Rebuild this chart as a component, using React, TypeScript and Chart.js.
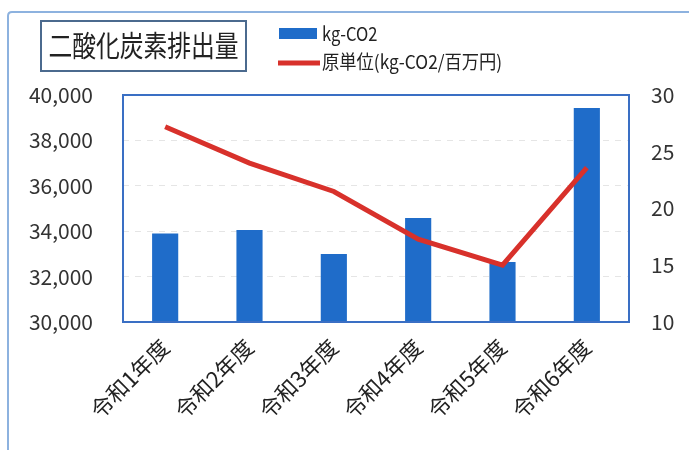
import React, { useEffect, useRef } from "react";
import { Chart, registerables } from "chart.js";

Chart.register(...registerables);

const categories = ["令和1年度", "令和2年度", "令和3年度", "令和4年度", "令和5年度", "令和6年度"];
const emissions = [33900, 34050, 33000, 34580, 32640, 39430];
const intensity = [27.2, 24.0, 21.5, 17.3, 15.0, 23.6];
const titleText = "二酸化炭素排出量";
const barLabel = "kg-CO2";
const lineLabel = "原単位(kg-CO2/百万円)";

const FONT = "'Noto Sans CJK JP', 'Noto Sans', sans-serif";
const BAR_COLOR = "#1f6cc9";
const LINE_COLOR = "#d8312b";

function squeezedText(ctx: any, text: string, x: number, y: number, sx: number) {
  ctx.save();
  ctx.translate(x, y);
  ctx.scale(sx, 1);
  ctx.fillText(text, 0, 0);
  ctx.restore();
}

const decorPlugin = {
  id: "decor",
  beforeDraw(chart: any) {
    const ctx = chart.ctx;
    ctx.save();
    ctx.fillStyle = "#ffffff";
    ctx.fillRect(0, 0, chart.width, chart.height);
    // outer frame
    ctx.strokeStyle = "#8db2df";
    ctx.lineWidth = 2;
    ctx.beginPath();
    ctx.moveTo(8, 470);
    ctx.lineTo(8, 16);
    ctx.quadraticCurveTo(8, 12, 12, 12);
    ctx.lineTo(700, 12);
    ctx.stroke();
    // title box
    ctx.strokeStyle = "#4b6a8e";
    ctx.lineWidth = 2;
    ctx.strokeRect(41, 21, 205, 50);
    ctx.fillStyle = "#222222";
    ctx.font = `29px ${FONT}`;
    ctx.textBaseline = "middle";
    ctx.textAlign = "center";
    squeezedText(ctx, titleText, 143.5, 46, 0.82);
    // legend
    ctx.fillStyle = BAR_COLOR;
    ctx.fillRect(279, 28, 38, 11);
    ctx.strokeStyle = LINE_COLOR;
    ctx.lineWidth = 5;
    ctx.beginPath();
    ctx.moveTo(278, 63);
    ctx.lineTo(320, 63);
    ctx.stroke();
    ctx.fillStyle = "#222222";
    ctx.font = `19px ${FONT}`;
    ctx.textAlign = "left";
    squeezedText(ctx, barLabel, 322, 34, 0.87);
    squeezedText(ctx, lineLabel, 322, 62, 0.91);
    ctx.restore();
  },
  afterDraw(chart: any) {
    const { ctx, chartArea } = chart;
    ctx.save();
    ctx.strokeStyle = "#3a6fc4";
    ctx.lineWidth = 2;
    ctx.strokeRect(chartArea.left, chartArea.top, chartArea.right - chartArea.left, chartArea.bottom - chartArea.top);
    ctx.restore();
  },
};

export default function App() {
  const ref = useRef<HTMLCanvasElement>(null);
  useEffect(() => {
    const chart = new Chart(ref.current!, {
      type: "bar",
      data: {
        labels: categories,
        datasets: [
          {
            type: "line",
            label: lineLabel,
            data: intensity,
            yAxisID: "y1",
            borderColor: LINE_COLOR,
            backgroundColor: LINE_COLOR,
            borderWidth: 5,
            pointRadius: 0,
            tension: 0,
            order: 0,
          } as any,
          {
            type: "bar",
            label: barLabel,
            data: emissions,
            yAxisID: "y",
            backgroundColor: BAR_COLOR,
            barPercentage: 0.31,
            categoryPercentage: 1,
            order: 1,
          },
        ],
      },
      options: {
        animation: false,
        responsive: false,
        layout: { padding: { top: 95, left: 0, right: 0, bottom: 0 } },
        plugins: { legend: { display: false }, title: { display: false }, tooltip: { enabled: false } },
        scales: {
          x: {
            grid: { display: false, drawTicks: false },
            border: { display: false },
            ticks: {
              color: "#222222",
              font: { family: FONT, size: 22 },
              maxRotation: 45,
              minRotation: 45,
              padding: 12,
              autoSkip: false,
            },
            afterFit(scale: any) {
              scale.height = 128;
            },
          },
          y: {
            position: "left",
            min: 30000,
            max: 40000,
            ticks: {
              stepSize: 2000,
              color: "#333333",
              font: { family: FONT, size: 21 },
              padding: 30,
              callback: (v: any) => Number(v).toLocaleString("en-US"),
            },
            grid: { color: "rgba(190,190,190,0.4)", drawTicks: false },
            border: { display: false, dash: [6, 6] },
            afterFit(scale: any) {
              scale.width = 123;
            },
          },
          y1: {
            position: "right",
            min: 10,
            max: 30,
            ticks: {
              stepSize: 5,
              color: "#333333",
              font: { family: FONT, size: 21 },
              padding: 22,
            },
            grid: { display: false, drawTicks: false },
            border: { display: false },
            afterFit(scale: any) {
              scale.width = 60;
            },
          },
        },
      },
      plugins: [decorPlugin],
    });
    return () => chart.destroy();
  }, []);
  return (
    <div style={{ position: "fixed", left: 0, top: 0, width: 689, height: 450, background: "#fff" }}>
      <canvas ref={ref} width={689} height={450} style={{ width: 689, height: 450, display: "block" }} />
    </div>
  );
}
